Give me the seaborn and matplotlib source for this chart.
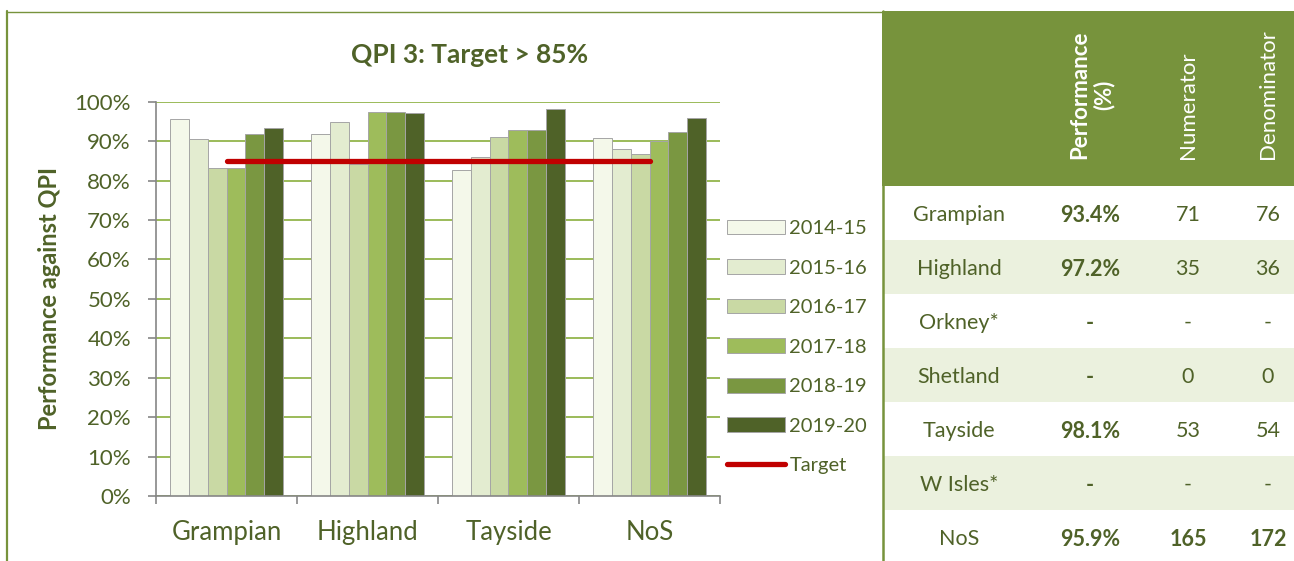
import numpy as np
import pandas as pd
import matplotlib
matplotlib.use("Agg")
import matplotlib.pyplot as plt
import seaborn as sns
from matplotlib.lines import Line2D
from matplotlib.patches import Rectangle

# ---------------- data ----------------
categories = ["Grampian", "Highland", "Tayside", "NoS"]
years = ["2014-15", "2015-16", "2016-17", "2017-18", "2018-19", "2019-20"]
v_2014_15 = [95.6, 91.9, 82.7, 90.7]
v_2015_16 = [90.5, 94.9, 86.1, 88.1]
v_2016_17 = [83.3, 84.2, 91.0, 86.7]
v_2017_18 = [83.1, 97.4, 92.7, 90.0]
v_2018_19 = [91.9, 97.4, 92.9, 92.4]
v_2019_20 = [93.4, 97.2, 98.1, 95.9]
target_value = 85
y_ticks = [0, 10, 20, 30, 40, 50, 60, 70, 80, 90, 100]

table_regions = ["Grampian", "Highland", "Orkney*", "Shetland", "Tayside", "W Isles*", "NoS"]
table_perf = ["93.4%", "97.2%", "-", "-", "98.1%", "-", "95.9%"]
table_num = ["71", "35", "-", "0", "53", "-", "165"]
table_den = ["76", "36", "-", "0", "54", "-", "172"]
table_headers = ["Performance\n(%)", "Numerator", "Denominator"]

series = [v_2014_15, v_2015_16, v_2016_17, v_2017_18, v_2018_19, v_2019_20]
df = pd.DataFrame(
    [(c, y, v) for y, vals in zip(years, series) for c, v in zip(categories, vals)],
    columns=["Board", "Year", "Value"],
)

# ---------------- style ----------------
sns.set_theme(style="white")
plt.rcParams["font.family"] = ["Lato", "DejaVu Sans"]

TXT = "#4F6228"
GREEN = "#77933C"
GRID = "#9BBB59"
AXC = "#868686"
palette = ["#F4F8EA", "#E3ECD0", "#C9D9A4", "#9EBC5B", "#7A9741", "#4F6228"]

W, H = 1294, 561
fig = plt.figure(figsize=(W / 100, H / 100), dpi=100)

def fx(x):
    return x / W

def fy(y):
    return 1 - y / H

ax = fig.add_axes([fx(156), fy(496), fx(720) - fx(156), fy(101.7) - fy(496)])

sns.barplot(data=df, x="Board", y="Value", hue="Year", hue_order=years,
            order=categories, palette=palette, width=0.8, ax=ax,
            edgecolor="#A5A5A5", linewidth=0.7, saturation=1)

ax.plot(range(len(categories)), [target_value] * len(categories),
        color="#C00000", lw=3.8, solid_capstyle="round", label="Target", zorder=5)

ax.set_ylim(0, 100)
ax.set_xlim(-0.5, len(categories) - 0.5)
ax.set_yticks(y_ticks)
ax.set_yticklabels([f"{t}%" for t in y_ticks])
ax.yaxis.grid(True, color=GRID, lw=1.4)
ax.set_axisbelow(True)
ax.set_xlabel("")
ax.set_ylabel("Performance against QPI", fontsize=17, fontweight="bold", color=TXT, labelpad=10)

for s in ["top", "right"]:
    ax.spines[s].set_visible(False)
for s in ["left", "bottom"]:
    ax.spines[s].set_color(AXC)
    ax.spines[s].set_linewidth(1.2)

ax.tick_params(axis="y", which="major", left=True, length=6, width=1.2, color=AXC,
               labelsize=16, labelcolor=TXT, pad=12)
ax.tick_params(axis="x", which="major", bottom=False, labelsize=18.5, labelcolor=TXT, pad=11)
ax.set_xticks(np.arange(-0.5, len(categories)), minor=True)
ax.tick_params(axis="x", which="minor", bottom=True, length=6, width=1.2, color=AXC)

fig.suptitle("QPI 3: Target > 85%", x=fx(470), y=fy(55), va="center", ha="center",
             fontsize=19, fontweight="bold", color=TXT)

handles, labels = ax.get_legend_handles_labels()
order = [labels.index(y) for y in years] + [labels.index("Target")]
handles = [handles[i] for i in order]
labels = [labels[i] for i in order]
leg = ax.legend(handles, labels, loc="center left", bbox_to_anchor=(fx(727), fy(347)),
                bbox_transform=fig.transFigure, frameon=False, fontsize=14.5,
                handlelength=2.9, handleheight=0.75, labelspacing=1.1,
                handletextpad=0.2, borderpad=0, borderaxespad=0)
for t in leg.get_texts():
    t.set_color(TXT)

# ---------------- frame lines ----------------
fig.add_artist(Line2D([fx(7), fx(7)], [fy(11), 0], color=GREEN, lw=1.6, transform=fig.transFigure))
fig.add_artist(Line2D([fx(7), fx(882)], [fy(11.5), fy(11.5)], color=GREEN, lw=1.0, transform=fig.transFigure))

# ---------------- table ----------------
fig.add_artist(Rectangle((fx(882), fy(186)), 1 - fx(882), fy(11) - fy(186),
                         transform=fig.transFigure, facecolor=GREEN, edgecolor="none"))
row_top = 186
row_h = 54
for i in range(len(table_regions)):
    y0 = row_top + i * row_h
    if i % 2 == 1:
        fig.add_artist(Rectangle((fx(884), fy(y0 + row_h)), 1 - fx(884), fy(y0) - fy(y0 + row_h),
                                 transform=fig.transFigure, facecolor="#EBF1DE", edgecolor="none"))
fig.add_artist(Line2D([fx(883), fx(883)], [fy(11), 0], color=GREEN, lw=1.8, transform=fig.transFigure))

col_x = [959, 1090, 1188, 1268]
for i, (r, p, n, d) in enumerate(zip(table_regions, table_perf, table_num, table_den)):
    yc = fy(row_top + i * row_h + row_h / 2 + 2)
    last = i == len(table_regions) - 1
    fig.text(fx(col_x[0]), yc, r, ha="center", va="center", fontsize=15.5, color=TXT)
    fig.text(fx(col_x[1]), yc, p, ha="center", va="center", fontsize=15.5, color=TXT, fontweight="bold")
    fig.text(fx(col_x[2]), yc, n, ha="center", va="center", fontsize=15.5, color=TXT,
             fontweight="bold" if last else "normal")
    fig.text(fx(col_x[3]), yc, d, ha="center", va="center", fontsize=15.5, color=TXT,
             fontweight="bold" if last else "normal")

hdr_x = [1092, 1188, 1268]
for j, h in enumerate(table_headers):
    fig.text(fx(hdr_x[j]), fy(159), h, rotation=90, ha="center", va="bottom",
             multialignment="center", fontsize=16, color="white",
             fontweight="bold" if j == 0 else "normal", linespacing=1.15)

fig.savefig("out.png", dpi=100)
